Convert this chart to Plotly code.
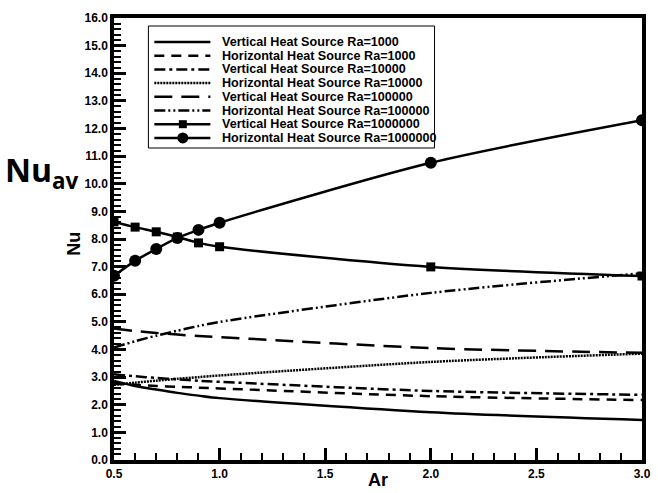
import plotly.graph_objects as go

ar = [0.5, 0.6, 0.7, 0.8, 0.9, 1.0, 2.0, 3.0]

v_ra1e3 = [2.86, 2.68, 2.55, 2.43, 2.33, 2.24, 1.73, 1.45]
h_ra1e3 = [2.76, 2.72, 2.68, 2.65, 2.62, 2.59, 2.31, 2.17]
v_ra1e4 = [3.10, 3.03, 2.97, 2.92, 2.87, 2.83, 2.50, 2.36]
h_ra1e4 = [2.72, 2.80, 2.87, 2.94, 3.00, 3.06, 3.55, 3.85]
v_ra1e5 = [4.76, 4.67, 4.60, 4.54, 4.49, 4.45, 4.05, 3.88]
h_ra1e5 = [4.07, 4.30, 4.50, 4.68, 4.85, 5.00, 6.05, 6.76]
v_ra1e6 = [8.62, 8.43, 8.26, 8.07, 7.86, 7.72, 6.99, 6.66]
h_ra1e6 = [6.67, 7.21, 7.64, 8.04, 8.33, 8.59, 10.76, 12.30]

names = [
    "Vertical Heat Source Ra=1000",
    "Horizontal Heat Source Ra=1000",
    "Vertical Heat Source Ra=10000",
    "Horizontal Heat Source Ra=10000",
    "Vertical Heat Source Ra=100000",
    "Horizontal Heat Source Ra=100000",
    "Vertical Heat Source Ra=1000000",
    "Horizontal Heat Source Ra=1000000",
]
x_ticks = [0.5, 1.0, 1.5, 2.0, 2.5, 3.0]
y_ticks = list(range(0, 17))

series = [v_ra1e3, h_ra1e3, v_ra1e4, h_ra1e4, v_ra1e5, h_ra1e5, v_ra1e6, h_ra1e6]
dashes = ["solid", "10px,7px", "11px,4px,3px,4px", "2px,1px", "18px,9px",
          "11px,3px,2px,3px,2px,3px", "solid", "solid"]
markers = [None, None, None, None, None, None, "square", "circle"]
msizes = [0, 0, 0, 0, 0, 0, 9, 12]

fig = go.Figure()
for nm, ys, ds, mk, ms in zip(names, series, dashes, markers, msizes):
    fig.add_trace(go.Scatter(
        x=ar, y=ys, name=nm, showlegend=False,
        mode="lines+markers" if mk else "lines",
        line=dict(color="black", width=2.5, dash=ds, shape="spline", smoothing=0.8),
        marker=dict(symbol=mk, size=ms, color="black") if mk else None,
    ))

# ---- manual legend (layout styling, paper coordinates) ----
W, H = 537.0, 442.0          # plot area size in px
L0, T0 = 114.0, 18.0         # plot area origin in px
def px(xp):
    return (xp - L0) / W
def py(yp):
    return (T0 + H - yp) / H

shapes = []
annots = []
box_l, box_r, box_t, box_b = 149, 440, 26, 148
shapes.append(dict(type="rect", xref="paper", yref="paper",
                   x0=px(box_l), x1=px(box_r), y0=py(box_b), y1=py(box_t),
                   line=dict(color="black", width=1), fillcolor="white", layer="above"))
row0, gap = 42, 13.7
for i, nm in enumerate(names):
    yy = row0 + i * gap
    shapes.append(dict(type="line", xref="paper", yref="paper",
                       x0=px(155), x1=px(212), y0=py(yy), y1=py(yy),
                       line=dict(color="black", width=2.5, dash=dashes[i]), layer="above"))
    if markers[i] == "square":
        shapes.append(dict(type="rect", xref="paper", yref="paper",
                           xsizemode="pixel", ysizemode="pixel",
                           xanchor=px(184), yanchor=py(yy),
                           x0=-4, x1=4, y0=-4, y1=4,
                           line=dict(width=0), fillcolor="black", layer="above"))
    elif markers[i] == "circle":
        shapes.append(dict(type="circle", xref="paper", yref="paper",
                           xsizemode="pixel", ysizemode="pixel",
                           xanchor=px(184), yanchor=py(yy),
                           x0=-5.5, x1=5.5, y0=-5.5, y1=5.5,
                           line=dict(width=0), fillcolor="black", layer="above"))
    annots.append(dict(text="<b>" + nm + "</b>", xref="paper", yref="paper",
                       x=px(222), y=py(yy), xanchor="left", yanchor="middle",
                       showarrow=False,
                       font=dict(family="Liberation Sans, Arial", size=12.6, color="black")))

tickfont = dict(family="Liberation Sans, Arial", size=12, color="black")

fig.update_layout(
    width=658, height=493,
    margin=dict(l=114, r=7, t=18, b=33),
    plot_bgcolor="white", paper_bgcolor="white",
    showlegend=False,
    xaxis=dict(
        range=[0.5, 3.0], tickmode="array", tickvals=x_ticks,
        ticktext=["<b>%.1f</b>" % v for v in x_ticks],
        ticks="inside", ticklen=12, tickwidth=3, tickcolor="black",
        minor=dict(ticks="inside", ticklen=7, tickwidth=2, dtick=0.1, tick0=0.5,
                   tickcolor="black"),
        showline=True, linewidth=3.5, linecolor="black", mirror=True,
        showgrid=False, zeroline=False, tickfont=tickfont,
    ),
    yaxis=dict(
        range=[0, 16], tickmode="array", tickvals=y_ticks,
        ticktext=["<b>%.1f</b>" % v for v in y_ticks],
        ticks="inside", ticklen=12, tickwidth=3, tickcolor="black",
        minor=dict(ticks="inside", ticklen=7, tickwidth=2, dtick=0.2, tick0=0,
                   tickcolor="black"),
        showline=True, linewidth=3.5, linecolor="black", mirror=True,
        showgrid=False, zeroline=False, tickfont=tickfont,
    ),
    shapes=shapes,
    annotations=annots + [
        dict(text="<b>Ar</b>", xref="paper", yref="paper", x=0.5, y=-0.073,
             xanchor="center", yanchor="bottom", showarrow=False,
             font=dict(family="Liberation Sans, Arial", size=18, color="black")),
        dict(text="<b>Nu</b>", xref="paper", yref="paper", x=-0.075, y=0.49,
             xanchor="center", yanchor="middle", showarrow=False, textangle=-90,
             font=dict(family="Liberation Sans, Arial", size=18, color="black")),
        dict(text="<b>Nu<sub>av</sub></b>", xref="paper", yref="paper", x=-0.21, y=0.652,
             xanchor="left", yanchor="middle", showarrow=False,
             font=dict(family="Open Sans, Noto Sans", size=32, color="black")),
    ],
)

fig.write_html("out.html")
